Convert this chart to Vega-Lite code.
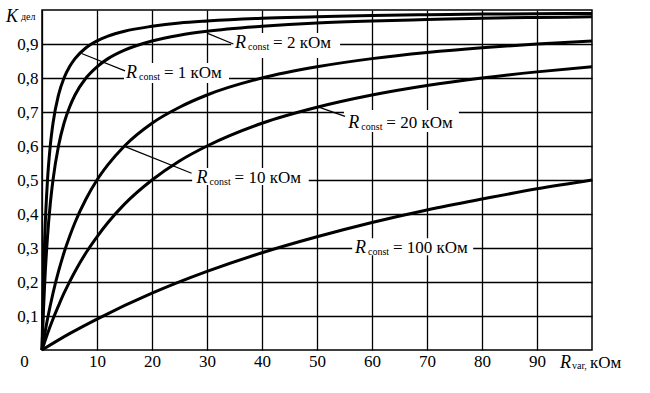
{
  "$schema": "https://vega.github.io/schema/vega-lite/v6.json",
  "width": 550,
  "height": 340,
  "autosize": {"type": "none"},
  "padding": {"left": 42, "top": 10, "right": 58, "bottom": 43},
  "background": "white",
  "config": {
    "view": {"stroke": "black", "strokeWidth": 1.5},
    "font": "Liberation Serif"
  },
  "datasets": {
    "curves": [
      {"r": "1", "x": 0, "k": 0}, {"r": "1", "x": 0.25, "k": 0.2}, {"r": "1", "x": 0.5, "k": 0.333}, {"r": "1", "x": 1, "k": 0.5}, {"r": "1", "x": 1.5, "k": 0.6}, {"r": "1", "x": 2, "k": 0.667}, {"r": "1", "x": 3, "k": 0.75}, {"r": "1", "x": 4, "k": 0.8}, {"r": "1", "x": 5, "k": 0.833}, {"r": "1", "x": 6, "k": 0.857}, {"r": "1", "x": 8, "k": 0.889}, {"r": "1", "x": 10, "k": 0.909}, {"r": "1", "x": 12, "k": 0.923}, {"r": "1", "x": 15, "k": 0.9375}, {"r": "1", "x": 20, "k": 0.952}, {"r": "1", "x": 25, "k": 0.962}, {"r": "1", "x": 30, "k": 0.968}, {"r": "1", "x": 40, "k": 0.976}, {"r": "1", "x": 50, "k": 0.98}, {"r": "1", "x": 60, "k": 0.984}, {"r": "1", "x": 70, "k": 0.986}, {"r": "1", "x": 80, "k": 0.988}, {"r": "1", "x": 90, "k": 0.989}, {"r": "1", "x": 100, "k": 0.99},
      {"r": "2", "x": 0, "k": 0}, {"r": "2", "x": 0.25, "k": 0.111}, {"r": "2", "x": 0.5, "k": 0.2}, {"r": "2", "x": 1, "k": 0.333}, {"r": "2", "x": 1.5, "k": 0.429}, {"r": "2", "x": 2, "k": 0.5}, {"r": "2", "x": 3, "k": 0.6}, {"r": "2", "x": 4, "k": 0.667}, {"r": "2", "x": 5, "k": 0.714}, {"r": "2", "x": 6, "k": 0.75}, {"r": "2", "x": 8, "k": 0.8}, {"r": "2", "x": 10, "k": 0.833}, {"r": "2", "x": 12, "k": 0.857}, {"r": "2", "x": 15, "k": 0.882}, {"r": "2", "x": 20, "k": 0.909}, {"r": "2", "x": 25, "k": 0.926}, {"r": "2", "x": 30, "k": 0.9375}, {"r": "2", "x": 40, "k": 0.952}, {"r": "2", "x": 50, "k": 0.962}, {"r": "2", "x": 60, "k": 0.968}, {"r": "2", "x": 70, "k": 0.972}, {"r": "2", "x": 80, "k": 0.976}, {"r": "2", "x": 90, "k": 0.978}, {"r": "2", "x": 100, "k": 0.98},
      {"r": "10", "x": 0, "k": 0}, {"r": "10", "x": 1, "k": 0.091}, {"r": "10", "x": 2, "k": 0.167}, {"r": "10", "x": 3, "k": 0.231}, {"r": "10", "x": 4, "k": 0.286}, {"r": "10", "x": 5, "k": 0.333}, {"r": "10", "x": 6, "k": 0.375}, {"r": "10", "x": 8, "k": 0.444}, {"r": "10", "x": 10, "k": 0.5}, {"r": "10", "x": 12, "k": 0.545}, {"r": "10", "x": 15, "k": 0.6}, {"r": "10", "x": 20, "k": 0.667}, {"r": "10", "x": 25, "k": 0.714}, {"r": "10", "x": 30, "k": 0.75}, {"r": "10", "x": 40, "k": 0.8}, {"r": "10", "x": 50, "k": 0.833}, {"r": "10", "x": 60, "k": 0.857}, {"r": "10", "x": 70, "k": 0.875}, {"r": "10", "x": 80, "k": 0.889}, {"r": "10", "x": 90, "k": 0.9}, {"r": "10", "x": 100, "k": 0.909},
      {"r": "20", "x": 0, "k": 0}, {"r": "20", "x": 1, "k": 0.048}, {"r": "20", "x": 2, "k": 0.091}, {"r": "20", "x": 3, "k": 0.13}, {"r": "20", "x": 4, "k": 0.167}, {"r": "20", "x": 5, "k": 0.2}, {"r": "20", "x": 6, "k": 0.231}, {"r": "20", "x": 8, "k": 0.286}, {"r": "20", "x": 10, "k": 0.333}, {"r": "20", "x": 12, "k": 0.375}, {"r": "20", "x": 15, "k": 0.429}, {"r": "20", "x": 20, "k": 0.5}, {"r": "20", "x": 25, "k": 0.556}, {"r": "20", "x": 30, "k": 0.6}, {"r": "20", "x": 40, "k": 0.667}, {"r": "20", "x": 50, "k": 0.714}, {"r": "20", "x": 60, "k": 0.75}, {"r": "20", "x": 70, "k": 0.778}, {"r": "20", "x": 80, "k": 0.8}, {"r": "20", "x": 90, "k": 0.818}, {"r": "20", "x": 100, "k": 0.833},
      {"r": "100", "x": 0, "k": 0}, {"r": "100", "x": 5, "k": 0.048}, {"r": "100", "x": 10, "k": 0.091}, {"r": "100", "x": 20, "k": 0.167}, {"r": "100", "x": 30, "k": 0.231}, {"r": "100", "x": 40, "k": 0.286}, {"r": "100", "x": 50, "k": 0.333}, {"r": "100", "x": 60, "k": 0.375}, {"r": "100", "x": 70, "k": 0.412}, {"r": "100", "x": 80, "k": 0.444}, {"r": "100", "x": 90, "k": 0.474}, {"r": "100", "x": 100, "k": 0.5}
    ],
    "labels": [
      {"x": 35.1, "y": 0.887, "val": "= 2 кОм", "bx1": 34.4, "bx2": 54.2, "by1": 0.859, "by2": 0.932},
      {"x": 15.27, "y": 0.799, "val": "= 1 кОм", "bx1": 14.9, "bx2": 34.0, "by1": 0.785, "by2": 0.844},
      {"x": 55.7, "y": 0.652, "val": "= 20 кОм", "bx1": 54.9, "bx2": 75.8, "by1": 0.641, "by2": 0.706},
      {"x": 28.1, "y": 0.492, "val": "= 10 кОм", "bx1": 27.3, "bx2": 48.5, "by1": 0.485, "by2": 0.535},
      {"x": 56.9, "y": 0.286, "val": "= 100 кОм", "bx1": 56.4, "bx2": 78.4, "by1": 0.279, "by2": 0.329}
    ],
    "leaders": [
      {"x1": 30, "y1": 0.932, "x2": 34.8, "y2": 0.9},
      {"x1": 7.2, "y1": 0.872, "x2": 15.1, "y2": 0.821},
      {"x1": 50.2, "y1": 0.715, "x2": 55.1, "y2": 0.687},
      {"x1": 15.1, "y1": 0.598, "x2": 27.2, "y2": 0.52}
    ]
  },
  "layer": [
    {
      "data": {"name": "curves"},
      "mark": {"type": "line", "color": "black", "strokeWidth": 3, "interpolate": "monotone"},
      "encoding": {
        "x": {
          "field": "x", "type": "quantitative",
          "scale": {"domain": [0, 100], "nice": false},
          "axis": {
            "values": [0, 10, 20, 30, 40, 50, 60, 70, 80, 90],
            "grid": true, "gridColor": "black", "gridWidth": 1.3, "gridOpacity": 1,
            "domain": false, "ticks": false, "title": null,
            "labelFont": "Liberation Serif", "labelFontSize": 17, "labelColor": "black",
            "labelPadding": 3, "labelFlush": false, "labelBound": false, "labelOverlap": false,
            "labelOffset": {"condition": {"test": "datum.value == 0", "value": -18}, "value": 0}
          }
        },
        "y": {
          "field": "k", "type": "quantitative",
          "scale": {"domain": [0, 1], "nice": false},
          "axis": {
            "values": [0.1, 0.2, 0.3, 0.4, 0.5, 0.6, 0.7, 0.8, 0.9],
            "labelExpr": "replace(format(datum.value, '.1f'), '.', ',')",
            "grid": true, "gridColor": "black", "gridWidth": 1.3, "gridOpacity": 1,
            "domain": false, "ticks": false, "title": null,
            "labelFont": "Liberation Serif", "labelFontSize": 17, "labelColor": "black",
            "labelPadding": 4, "labelFlush": false, "labelBound": false, "labelOverlap": false
          }
        },
        "detail": {"field": "r"}
      }
    },
    {
      "data": {"name": "labels"},
      "mark": {"type": "rect", "fill": "white", "stroke": null},
      "encoding": {
        "x": {"field": "bx1", "type": "quantitative"},
        "x2": {"field": "bx2"},
        "y": {"field": "by1", "type": "quantitative"},
        "y2": {"field": "by2"}
      }
    },
    {
      "data": {"name": "leaders"},
      "mark": {"type": "rule", "color": "black", "strokeWidth": 1.2},
      "encoding": {
        "x": {"field": "x1", "type": "quantitative"},
        "x2": {"field": "x2"},
        "y": {"field": "y1", "type": "quantitative"},
        "y2": {"field": "y2"}
      }
    },
    {
      "data": {"name": "labels"},
      "mark": {"type": "text", "align": "left", "baseline": "alphabetic", "font": "Liberation Serif", "fontSize": 18, "fontStyle": "italic", "color": "black"},
      "encoding": {
        "x": {"field": "x", "type": "quantitative"},
        "y": {"field": "y", "type": "quantitative"},
        "text": {"value": "R"}
      }
    },
    {
      "data": {"name": "labels"},
      "mark": {"type": "text", "align": "left", "baseline": "alphabetic", "font": "Liberation Serif", "fontSize": 10, "color": "black", "dx": 13, "dy": 2},
      "encoding": {
        "x": {"field": "x", "type": "quantitative"},
        "y": {"field": "y", "type": "quantitative"},
        "text": {"value": "const"}
      }
    },
    {
      "data": {"name": "labels"},
      "mark": {"type": "text", "align": "left", "baseline": "alphabetic", "font": "Liberation Serif", "fontSize": 17, "color": "black", "dx": 38},
      "encoding": {
        "x": {"field": "x", "type": "quantitative"},
        "y": {"field": "y", "type": "quantitative"},
        "text": {"field": "val"}
      }
    },
    {
      "data": {"values": [{}]},
      "mark": {"type": "text", "align": "left", "baseline": "alphabetic", "font": "Liberation Serif", "fontSize": 18, "fontStyle": "italic", "color": "black", "dx": -36, "dy": 12, "clip": false},
      "encoding": {"x": {"datum": 0, "type": "quantitative"}, "y": {"datum": 1, "type": "quantitative"}, "text": {"value": "K"}}
    },
    {
      "data": {"values": [{}]},
      "mark": {"type": "text", "align": "left", "baseline": "alphabetic", "font": "Liberation Serif", "fontSize": 10, "color": "black", "dx": -21, "dy": 10, "clip": false},
      "encoding": {"x": {"datum": 0, "type": "quantitative"}, "y": {"datum": 1, "type": "quantitative"}, "text": {"value": "дел"}}
    },
    {
      "data": {"values": [{}]},
      "mark": {"type": "text", "align": "left", "baseline": "alphabetic", "font": "Liberation Serif", "fontSize": 18, "fontStyle": "italic", "color": "black", "dx": -32, "dy": 18, "clip": false},
      "encoding": {"x": {"datum": 100, "type": "quantitative"}, "y": {"datum": 0, "type": "quantitative"}, "text": {"value": "R"}}
    },
    {
      "data": {"values": [{}]},
      "mark": {"type": "text", "align": "left", "baseline": "alphabetic", "font": "Liberation Serif", "fontSize": 10, "color": "black", "dx": -20, "dy": 19, "clip": false},
      "encoding": {"x": {"datum": 100, "type": "quantitative"}, "y": {"datum": 0, "type": "quantitative"}, "text": {"value": "var,"}}
    },
    {
      "data": {"values": [{}]},
      "mark": {"type": "text", "align": "left", "baseline": "alphabetic", "font": "Liberation Serif", "fontSize": 17, "color": "black", "dx": -2, "dy": 18, "clip": false},
      "encoding": {"x": {"datum": 100, "type": "quantitative"}, "y": {"datum": 0, "type": "quantitative"}, "text": {"value": "кОм"}}
    }
  ]
}
